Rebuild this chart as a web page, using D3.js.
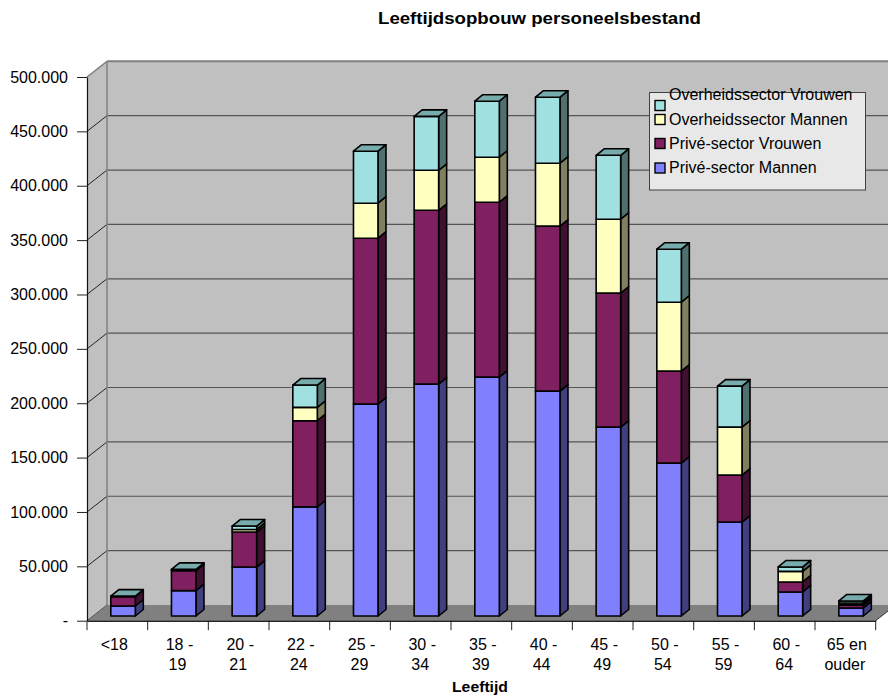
<!DOCTYPE html>
<html><head><meta charset="utf-8">
<script src="https://cdn.jsdelivr.net/npm/d3@7"></script>
<style>html,body{margin:0;padding:0;background:#fff}svg{display:block}text{font-family:"Liberation Sans",Arial,sans-serif;fill:#000}</style>
</head><body><svg id="c" width="888" height="697"></svg>
<script>
const categories=["<18","18 -|19","20 -|21","22 -|24","25 -|29","30 -|34","35 -|39","40 -|44","45 -|49","50 -|54","55 -|59","60 -|64","65 en|ouder"];
const priveMannen=[9200,23300,45000,100400,194800,213200,219700,206800,173700,140600,86400,22100,7400];
const priveVrouwen=[8500,18400,32200,79200,152600,159900,160800,151700,123200,84600,43200,9200,2800];
const overheidMannen=[300,500,2300,12300,32200,36800,41400,57900,68000,63400,44100,9700,1800];
const overheidVrouwen=[300,700,3200,20500,47800,49600,51500,60700,58800,48700,37700,4100,1800];
const seriesNames=["Privé-sector Mannen","Privé-sector Vrouwen","Overheidssector Mannen","Overheidssector Vrouwen"];
const yTicks=[0,50000,100000,150000,200000,250000,300000,350000,400000,450000,500000];
const colors=["#8080FF","#802060","#FFFFC0","#A0E0E0"];
const sides=["#404080","#401030","#808060","#507070"];
const tops=["#6060C0","#601848","#C0C090","#78ACAC"];

const svg=d3.select("#c");
const W=20,H=15.7; // wall depth
const BD=8,BH=6.5; // bar depth
const x=d3.scaleBand().domain(categories).range([87,875.7]);
const y=d3.scaleLinear().domain([0,500000]).range([620.7,77]);
const barW=24.5, barX=23.8, lift=4.7;
const fmt=v=>v===0?"-":d3.format(",")(v).replace(/,/g,".");
const poly=(pts,fill,stroke,sw)=>svg.append("polygon").attr("points",pts.map(p=>p.join(",")).join(" ")).attr("fill",fill).attr("stroke",stroke||"none").attr("stroke-width",sw||0).attr("stroke-linejoin","round");
const FS=16;

const x0=x.range()[0],x1=x.range()[1],yb=y(0),yt=y(500000);
// walls and floor
poly([[x0+W,yb-H],[x1+W,yb-H],[x1+W,yt-H],[x0+W,yt-H]],"#C0C0C0");
poly([[x0,yb],[x0+W,yb-H],[x0+W,yt-H],[x0,yt]],"#C0C0C0");
poly([[x0,yb],[x1,yb],[x1+W,yb-H],[x0+W,yb-H]],"#808080");
// gridlines
yTicks.slice(1).forEach(t=>{
  const py=y(t), top=t===500000;
  svg.append("line").attr("x1",x0+W).attr("x2",x1+W).attr("y1",py-H).attr("y2",py-H).attr("stroke",top?"#808080":"#555").attr("stroke-width",top?2:1.2);
  svg.append("line").attr("x1",x0).attr("x2",x0+W).attr("y1",py).attr("y2",py-H).attr("stroke",top?"#808080":"#222").attr("stroke-width",top?1.5:1);
});
svg.append("line").attr("x1",x0+W).attr("x2",x0+W).attr("y1",yb-H).attr("y2",yt-H).attr("stroke","#808080").attr("stroke-width",1.5);
svg.append("line").attr("x1",x0).attr("x2",x0+W).attr("y1",yb).attr("y2",yb-H).attr("stroke","#555").attr("stroke-width",1);
svg.append("line").attr("x1",x1).attr("x2",x1+W).attr("y1",yb).attr("y2",yb-H).attr("stroke","#333").attr("stroke-width",1);

// axes
const yAxis=d3.axisLeft(y).tickValues(yTicks).tickFormat(fmt).tickSize(10).tickPadding(9).tickSizeOuter(0);
const gy=svg.append("g").attr("transform",`translate(${x0},0)`).call(yAxis);
gy.selectAll("text").attr("font-size",FS).attr("font-family",'"Liberation Sans",Arial,sans-serif');
gy.selectAll("line").attr("stroke","#222").attr("stroke-width",1);
gy.select(".domain").attr("stroke","#111").attr("stroke-width",1.2);
const xAxis=d3.axisBottom(x).tickValues([]).tickSizeOuter(0);
const gx=svg.append("g").attr("transform",`translate(0,${yb})`).call(xAxis);
gx.select(".domain").attr("stroke","#222").attr("stroke-width",1.4);
const edges=[...categories.map(c=>x(c)),x1];
edges.forEach(e=>svg.append("line").attr("x1",e).attr("x2",e).attr("y1",yb).attr("y2",yb+9.5).attr("stroke","#222").attr("stroke-width",1));
categories.forEach(c=>{
  const lines=c.split("|");
  const t=svg.append("text").attr("text-anchor","middle").attr("font-size",FS).attr("transform",`translate(${x(c)+x.bandwidth()/2},0)`);
  lines.forEach((s,i)=>t.append("tspan").attr("x",lines.length===1?-3:(i===0?1.5:-0.5)).attr("y",650+i*20).text(s));
});

// bars
const series=[priveMannen,priveVrouwen,overheidMannen,overheidVrouwen];
categories.forEach((c,i)=>{
  let cum=0;
  const bx=x(c)+barX;
  series.map(s=>s[i]).forEach((v,si)=>{
    const yBot=y(cum)-lift, yTop=y(cum+v)-lift;
    poly([[bx+barW,yBot],[bx+barW+BD,yBot-BH],[bx+barW+BD,yTop-BH],[bx+barW,yTop]],sides[si],"#000",1.6);
    poly([[bx,yTop],[bx+barW,yTop],[bx+barW,yBot],[bx,yBot]],colors[si],"#000",1.6);
    cum+=v;
    if(si===3) poly([[bx,yTop],[bx+barW,yTop],[bx+barW+BD,yTop-BH],[bx+BD,yTop-BH]],tops[si],"#000",1.6);
  });
});

// legend
svg.append("rect").attr("x",649.5).attr("y",92.5).attr("width",216).attr("height",97.5).attr("fill","#E8E8E8").attr("stroke","#404040").attr("stroke-width",1);
[3,2,1,0].forEach((si,i)=>{
  svg.append("rect").attr("x",655).attr("y",[100.5,114.5,138.5,163][i]).attr("width",10).attr("height",10).attr("fill",colors[si]).attr("stroke","#000").attr("stroke-width",1.4);
  svg.append("text").attr("x",669).attr("y",[100,125,149,173][i]).attr("font-size",FS).text(seriesNames[si]);
});

// titles
svg.append("text").attr("x",378).attr("y",24).attr("font-size",16.5).attr("font-weight","bold").attr("textLength",323).attr("lengthAdjust","spacingAndGlyphs").text("Leeftijdsopbouw personeelsbestand");
svg.append("text").attr("x",452).attr("y",691.5).attr("font-size",15.5).attr("font-weight","bold").attr("textLength",56).attr("lengthAdjust","spacingAndGlyphs").text("Leeftijd");
</script></body></html>
